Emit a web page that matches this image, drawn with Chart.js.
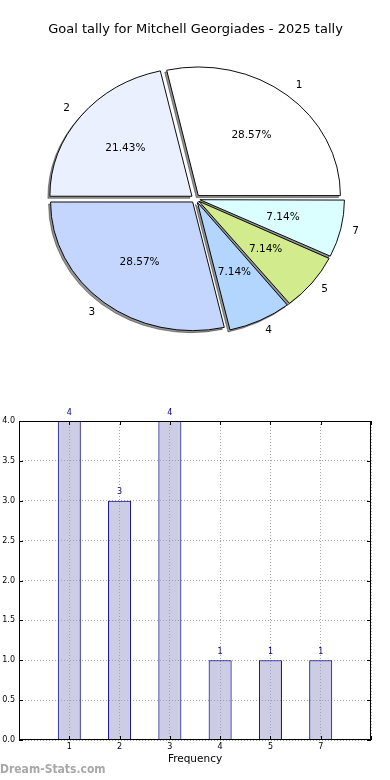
<!DOCTYPE html>
<html>
<head>
<meta charset="utf-8">
<script src="https://cdn.jsdelivr.net/npm/chart.js@4"></script>
<style>
  html, body { margin: 0; padding: 0; background: #fff; width: 390px; height: 780px; overflow: hidden; }
  #pie { position: absolute; left: 0; top: 0; }
  #bar { position: absolute; left: 0; top: 400px; }
  #mark { position: absolute; left: 0; top: 762px; font-family: 'DejaVu Sans Condensed', 'DejaVu Sans'; font-stretch: condensed;
          font-weight: bold; font-size: 12px; color: #a8a8a8; }
</style>
</head>
<body>
<canvas id="pie" width="390" height="340"></canvas>
<canvas id="bar" width="390" height="380"></canvas>
<div id="mark">Dream-Stats.com</div>
<script>
const categories = ['1', '2', '3', '4', '5', '7'];
const goals = [4, 3, 4, 1, 1, 1];
const sliceColors = ['#ffffff', '#eaf0fe', '#c4d6fe', '#b3d6fe', '#d2eb8c', '#dbfefe'];
const titleText = 'Goal tally for Mitchell Georgiades - 2025 tally';

const PIE_SQUASH = 0.905;   // the original pie is a bit flattened
const total = goals.reduce((a, b) => a + b, 0);

// chart.js goes clockwise, matplotlib counter clockwise -> reverse order, start at 3 o'clock
const order = categories.map((c, i) => i).reverse();

const pieLook = {
    id: 'pieLook',
    beforeDatasetsDraw(chart) {
        const ctx = chart.ctx;
        const arcs = chart.getDatasetMeta(0).data;
        const cx = arcs[0].x, cy = arcs[0].y;
        ctx.save();
        ctx.translate(cx, cy);
        ctx.scale(1, PIE_SQUASH);
        ctx.translate(-cx, -cy);
        // shadow pass: draw the arcs far off canvas, only their shadow lands here
        ctx.save();
        ctx.translate(-4000, 0);
        ctx.shadowColor = 'rgba(0,0,0,0.42)';
        ctx.shadowOffsetX = 4000 - 2;
        ctx.shadowOffsetY = 2;
        ctx.shadowBlur = 0;
        arcs.forEach(a => a.draw(ctx));
        ctx.restore();
    },
    afterDatasetsDraw(chart) {
        const ctx = chart.ctx;
        ctx.restore();
        const meta = chart.getDatasetMeta(0);
        const vals = chart.data.datasets[0].data;
        ctx.save();
        ctx.fillStyle = '#000';
        ctx.font = '10.5px "DejaVu Sans"';
        ctx.textBaseline = 'middle';
        meta.data.forEach((arc, i) => {
            const mid = (arc.startAngle + arc.endAngle) / 2;
            const c = Math.cos(mid), s = Math.sin(mid);
            const shift = arc.options.offset / 4;
            const r = arc.outerRadius;
            const at = d => [arc.x + c * (shift + d * r), arc.y + s * (shift + d * r) * PIE_SQUASH];
            let [x, y] = at(1.1);
            ctx.textAlign = c > 0 ? 'left' : 'right';
            ctx.fillText(chart.data.labels[i], x, y);
            [x, y] = at(0.6);
            ctx.textAlign = 'center';
            ctx.fillText((vals[i] / total * 100).toFixed(2) + '%', x, y);
        });
        ctx.restore();
    }
};

new Chart(document.getElementById('pie'), {
    type: 'pie',
    data: {
        labels: order.map(i => categories[i]),
        datasets: [{
            data: order.map(i => goals[i]),
            backgroundColor: order.map(i => sliceColors[i]),
            borderColor: '#000',
            borderWidth: 1,
            offset: 18,
            clip: false
        }]
    },
    options: {
        responsive: false,
        animation: false,
        events: [],
        rotation: 90,
        radius: 142,
        layout: { padding: { left: 1 } },
        plugins: {
            legend: { display: false },
            tooltip: { enabled: false },
            title: {
                display: true,
                text: titleText,
                color: '#000',
                font: { family: 'DejaVu Sans', size: 13, weight: 'normal' },
                padding: { top: 22, bottom: 20 }
            }
        }
    },
    plugins: [pieLook]
});

const barLook = {
    id: 'barLook',
    afterDatasetsDraw(chart) {
        const { ctx, chartArea: a } = chart;
        const xs = chart.scales.x, ys = chart.scales.y;
        ctx.save();
        ctx.strokeStyle = '#000';
        ctx.lineWidth = 1;
        ctx.strokeRect(a.left + 0.5, a.top + 0.5, a.width - 1, a.height - 1);
        // inward tick marks on all sides
        ctx.beginPath();
        ys.ticks.forEach(t => {
            const y = Math.round(ys.getPixelForValue(t.value)) + 0.5;
            ctx.moveTo(a.left, y); ctx.lineTo(a.left + 4, y);
            ctx.moveTo(a.right, y); ctx.lineTo(a.right - 4, y);
        });
        xs.ticks.forEach(t => {
            const x = Math.round(xs.getPixelForValue(t.value)) + 0.5;
            ctx.moveTo(x, a.bottom); ctx.lineTo(x, a.bottom - 4);
            ctx.moveTo(x, a.top); ctx.lineTo(x, a.top + 4);
        });
        ctx.stroke();
        // value labels
        ctx.fillStyle = '#000080';
        ctx.font = '8px "DejaVu Sans"';
        ctx.textAlign = 'center';
        ctx.textBaseline = 'alphabetic';
        chart.getDatasetMeta(0).data.forEach((bar, i) => {
            ctx.fillText(String(goals[i]), bar.x, bar.y - 6.5);
        });
        ctx.restore();
    }
};

const tickFont = { family: 'DejaVu Sans', size: 8 };

new Chart(document.getElementById('bar'), {
    type: 'bar',
    data: {
        datasets: [{
            data: goals.map((v, i) => ({ x: i, y: v })),
            backgroundColor: 'rgba(153,153,204,0.5)',
            borderColor: '#000080',
            borderWidth: 1,
            categoryPercentage: 1,
            barPercentage: 0.458
        }]
    },
    options: {
        responsive: false,
        animation: false,
        events: [],
        layout: { padding: { top: 21, right: 19, left: 0, bottom: 0 } },
        plugins: { legend: { display: false }, tooltip: { enabled: false } },
        scales: {
            x: {
                type: 'linear',
                min: -1,
                max: 6,
                offset: false,
                grid: { color: 'rgba(0,0,0,0.35)', drawTicks: false, offset: false },
                border: { display: false, dash: [1, 2] },
                ticks: {
                    stepSize: 1, padding: 2, color: '#000', font: tickFont,
                    callback: v => categories[v] ?? ''
                },
                title: {
                    display: true, text: 'Frequency', color: '#000',
                    font: { family: 'DejaVu Sans', size: 10.5 },
                    padding: { top: 0, bottom: 14 }
                },
                afterFit(s) { s.height = 40; }
            },
            y: {
                min: 0,
                max: 4,
                grid: { color: 'rgba(0,0,0,0.35)', drawTicks: false },
                border: { display: false, dash: [1, 2] },
                ticks: {
                    stepSize: 0.5, padding: 4, color: '#000', font: tickFont,
                    callback: v => v.toFixed(1)
                },
                afterFit(s) { s.width = 19; }
            }
        }
    },
    plugins: [barLook]
});
</script>
</body>
</html>
